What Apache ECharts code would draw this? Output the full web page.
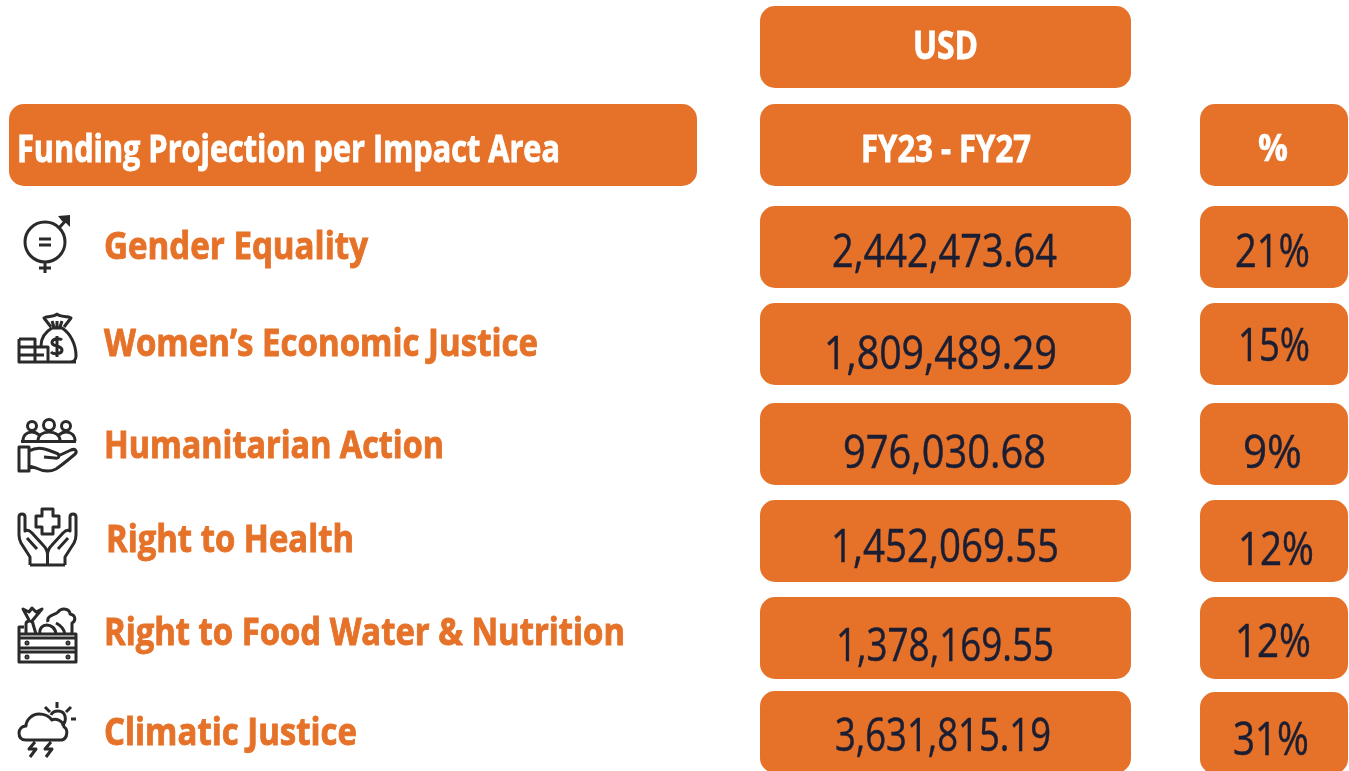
<!DOCTYPE html>
<html>
<head>
<meta charset="utf-8">
<style>html,body{margin:0;padding:0;background:#fff}#c{width:1349px;height:771px}</style>
<script src="https://cdn.jsdelivr.net/npm/echarts@6/dist/echarts.min.js"></script>
</head>
<body>
<div id="c"></div>
<script>
// ---- data ----
var title = "Funding Projection per Impact Area";
var usdHeader = "USD";
var periodHeader = "FY23 - FY27";
var pctHeader = "%";
var categories = ["Gender Equality", "Women\u2019s Economic Justice", "Humanitarian Action", "Right to Health", "Right to Food Water & Nutrition", "Climatic Justice"];
var usdValues = [2442473.64, 1809489.29, 976030.68, 1452069.55, 1378169.55, 3631815.19];
var shareValues = [21, 15, 9, 12, 12, 31];

// ---- layout ----
var ORANGE = "#E57228", INK = "#1B1E33", ICON = "#2A2A2A";
var FONT = '"Open Sans"';
var rowTops = [206, 303, 403, 500, 597, 691];
var pctTops = [206, 303, 403, 500, 597, 692];
var boxH = 82;
var usdBox = [760, 1131], pctBox = [1200, 1348];
var labelX = [[104,368],[104,538],[104,444],[106,354],[104,625],[104,357]];
var labelBase = [262, 359, 461, 555, 648, 748];
var usdX = [[832,1057],[824,1057],[843,1046],[831,1059],[836,1054],[835,1051]];
var usdBase = [270, 372, 471, 565, 664, 754];
var pctX = [[1235,1310],[1238,1310],[1243,1302],[1238,1314],[1235,1311],[1233,1309]];
var pctBase = [270, 364, 471, 568, 660, 758];
var iconTops = [213, 312, 418, 507, 607, 701];

function circ(x, y, r) {
  return "M" + (x - r) + " " + y + "A" + r + " " + r + " 0 1 0 " + (x + r) + " " + y + "A" + r + " " + r + " 0 1 0 " + (x - r) + " " + y;
}
var iconStrokes = [
  circ(27,29,20) + "M41 15L50 5M27 49L27 60M21 55L33 55M21 26L33 26M21 32L33 32",
  "M1 27L17 27L17 50M1 27L1 50L58 50M1 35L30 35L30 50M1 43L26 43M34 16C27 20 23 26 23 34M30 50L52 50C56 50 58 47 58 44C58 32 52 21 44 16L34 16M33 15L26 6C30 3 35 6 39 2C43 6 49 3 53 6L46 15M36 15L34 9M42 15L44 9M39 15L39 9M44 28C42 26 35 26 34 30C33 35 44 33 44 38C44 42 36 43 33 40M39 24L39 45",
  circ(14,8,4.5) + circ(31,7,5.5) + circ(48,8,4.5) + "M5 23C5 17 9 14 14 14C17 14 19 15 21 17M20 23C20 17 25 14 31 14C37 14 42 17 42 23M41 17C43 15 45 14 48 14C53 14 57 17 57 23M3 23.5L58 23.5M1 29L11 29L11 53L1 53ZM11 33C18 29 25 30 30 32L38 35C42 36 42 41 37 40L26 39M40 38L53 32C58 30 60 34 56 37C50 42 44 47 38 51C32 54 24 53 18 50L11 48",
  "M24 2L35 2L35 9L41 9L41 20L35 20L35 27L24 27L24 20L18 20L18 9L24 9ZM12 58L12 50L3 36C1 32 1 30 1 28L1 10C1 6 7 6 7 10L7 24C10 22 12 24 14 26L25 38C28 41 29.5 44 29.5 48L29.5 58M12 58L47 58M9 31L19 42M47 58L47 50L56 36C58 32 58 30 58 28L58 10C58 6 52 6 52 10L52 24C49 22 47 24 45 26L34 38C31 41 29.5 44 29.5 48M50 31L40 42",
  "M1 27L58 27L58 55L1 55ZM1 31L58 31M1 41L58 41M1 45L58 45" + circ(9,36,1) + circ(50,36,1) + circ(9,50,1) + circ(50,50,1) + "M1 27L1 20L6 20M8 27L8 17C8 13 15 13 15 17L18 27M11 13L5 2L11 5L14 1L18 5L24 2L14 14M22 27C20 15 37 15 38 27M30 15C28 8 38 8 40 5C44 0 52 2 52 7C58 8 58 14 54 16L54 27M38 16C42 18 46 22 47 27",
  "M8 39C2 39 1 35 1 32C1 28 4 25 8 25C8 19 14 13 21 13C27 13 31 15 34 19C37 17 45 19 46 26C50 28 50 37 44 39ZM33 14C35 9 45 8 47 15C48 19 46 23 44 25M39 1L39 7M27 6L32 11M53 6L48 11M53 18L58 18M17 41L11 48L18 48L12 56M33 41L27 48L34 48L28 56"
];
var iconFills = ["M40 3L52 2L52 14L48 10L44 8Z", "", "", "", "", ""];
var ANCHORS = "M0 0L0 0M60 60L60 60";

function money(v) { return v.toLocaleString("en-US", {minimumFractionDigits: 2, maximumFractionDigits: 2}); }

var boxes = [
  [usdBox[0], usdBox[1], 6, 88],
  [9, 697, 104, 186],
  [usdBox[0], usdBox[1], 104, 186],
  [pctBox[0], pctBox[1], 104, 186]
];
rowTops.forEach(function (t, i) {
  boxes.push([usdBox[0], usdBox[1], t, t + boxH]);
  boxes.push([pctBox[0], pctBox[1], pctTops[i], pctTops[i] + boxH]);
});

// texts: text, x0, x1, baseline, size, weight, colour, extra stroke
var texts = [
  [usdHeader, 913, 978, 62, 39, 700, "#fff", 0.8],
  [title, 17, 560, 165, 38, 700, "#fff", 0.9],
  [periodHeader, 861, 1031, 165, 37, 700, "#fff", 0.8],
  [pctHeader, 1258, 1288, 164, 37, 700, "#fff", 0.5]
];
categories.forEach(function (c, i) {
  texts.push([c, labelX[i][0], labelX[i][1], labelBase[i], 38, 700, ORANGE, 0.9]);
  texts.push([money(usdValues[i]), usdX[i][0], usdX[i][1], usdBase[i], 46, 400, INK, 0.5]);
  texts.push([shareValues[i] + "%", pctX[i][0], pctX[i][1], pctBase[i], 46, 400, INK, 0.5]);
});

var mc = document.createElement("canvas").getContext("2d");
function fit(t) {
  mc.font = t[5] + " " + t[4] + "px " + FONT;
  return (t[2] - t[1]) / mc.measureText(t[0]).width;
}

var chart = echarts.init(document.getElementById("c"), null, {renderer: "canvas"});

chart.setOption({
  animation: false,
  backgroundColor: "#fff",
  grid: {left: 0, right: 0, top: 0, bottom: 0},
  xAxis: {type: "value", min: 0, max: 1349, show: false},
  yAxis: {type: "value", min: 0, max: 771, inverse: true, show: false},
  series: [
    {
      type: "custom", coordinateSystem: "cartesian2d", clip: false, silent: true,
      data: boxes.map(function (b) { return [b[0], b[2]]; }),
      renderItem: function (p, api) {
        var b = boxes[p.dataIndex], a = api.coord([b[0], b[2]]), z = api.coord([b[1], b[3]]);
        return {type: "rect", shape: {x: a[0], y: a[1], width: z[0] - a[0], height: z[1] - a[1], r: 15}, style: {fill: ORANGE}};
      }
    },
    {
      type: "custom", coordinateSystem: "cartesian2d", clip: false, silent: true,
      data: iconTops.map(function (t) { return [18, t]; }),
      renderItem: function (p, api) {
        var i = p.dataIndex, a = api.coord([18, iconTops[i]]);
        var kids = [{type: "path", shape: {pathData: ANCHORS + iconStrokes[i], x: a[0], y: a[1], width: 60, height: 60, layout: "cover"},
          style: {fill: "none", stroke: ICON, lineWidth: 3, lineJoin: "round"}}];
        if (iconFills[i]) kids.push({type: "path", shape: {pathData: ANCHORS + iconFills[i], x: a[0], y: a[1], width: 60, height: 60, layout: "cover"},
          style: {fill: ICON, stroke: null}});
        return {type: "group", children: kids};
      }
    },
    {
      type: "custom", coordinateSystem: "cartesian2d", clip: false, silent: true,
      data: texts.map(function (t) { return [t[1], t[3]]; }),
      renderItem: function (p, api) {
        var t = texts[p.dataIndex], a = api.coord([t[1], t[3]]);
        return {type: "text", x: a[0], y: a[1], scaleX: fit(t),
          style: {text: t[0], x: 0, y: -t[4] * 0.3555, fill: t[6], stroke: t[6], lineWidth: t[7], fontFamily: FONT, fontSize: t[4], fontWeight: t[5], align: "left", verticalAlign: "middle"}};
      }
    }
  ]
});
</script>
</body>
</html>
